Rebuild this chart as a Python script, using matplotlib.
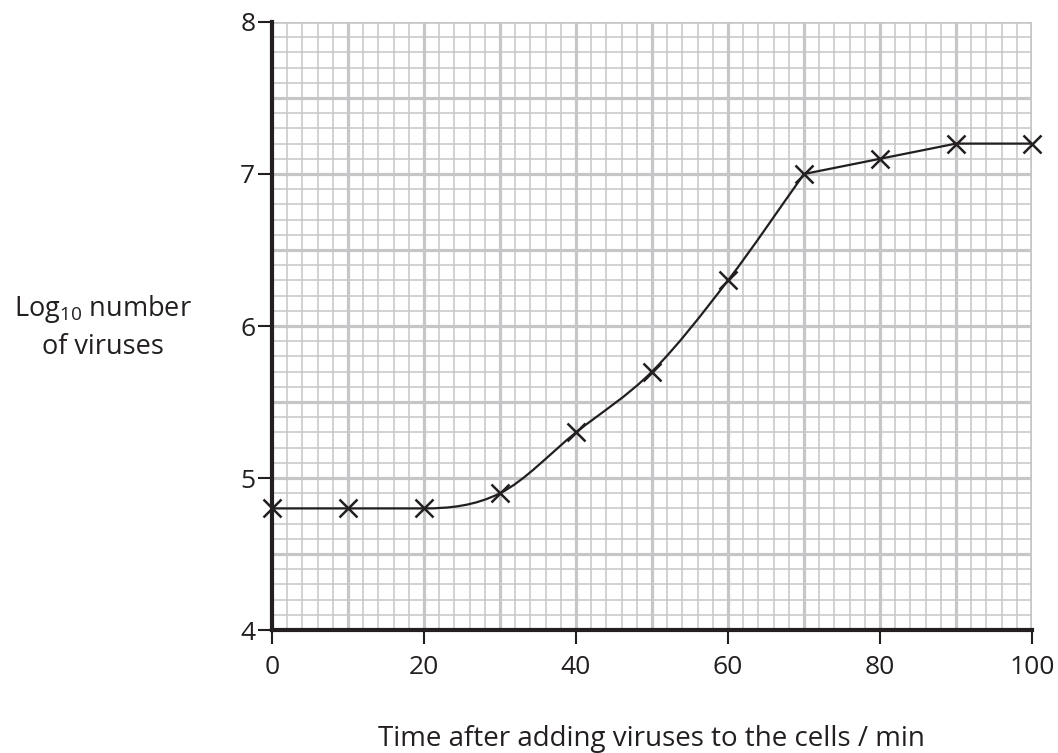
import numpy as np
import matplotlib.pyplot as plt
from matplotlib.path import Path
from matplotlib.patches import PathPatch

plt.rcParams['font.family'] = ['Open Sans', 'DejaVu Sans']
plt.rcParams['mathtext.fontset'] = 'custom'
plt.rcParams['mathtext.rm'] = 'Open Sans'
plt.rcParams['mathtext.it'] = 'Open Sans'

# data
time_min = [0, 10, 20, 30, 40, 50, 60, 70, 80, 90, 100]
log_viruses = [4.8, 4.8, 4.8, 4.9, 5.3, 5.7, 6.3, 7.0, 7.1, 7.2, 7.2]
x_ticks = [0, 20, 40, 60, 80, 100]
y_ticks = [4, 5, 6, 7, 8]

ink = '#231f20'
fig = plt.figure(figsize=(10.58, 7.53), dpi=100)
ax = fig.add_axes([0.2571, 0.1633, 0.7183, 0.8075])
ax.set_xlim(0, 100)
ax.set_ylim(4, 8)

grid = '#c6c6c8'
for v in np.arange(2, 100, 2):
    ax.axvline(v, color=grid, lw=1.1 if v % 10 else 2.3, zorder=1)
ax.axvline(100, color=grid, lw=2.6, zorder=1)
for v in np.arange(41, 80) / 10:
    ax.axhline(v, color=grid, lw=2.3 if v % 0.5 < 1e-6 or v % 0.5 > 0.49 else 1.1, zorder=1)
ax.axhline(8, color=grid, lw=2.6, zorder=1)

# hand-drawn style curve: smooth (monotone) up to 70 min, straight after
x = np.array(time_min, float)
y = np.array(log_viruses, float)
k = 7
d = np.diff(y[:k + 1]) / np.diff(x[:k + 1])
m = np.zeros(k + 1)
for i in range(1, k):
    if d[i - 1] * d[i] > 0:
        m[i] = (d[i - 1] + d[i]) / 2
m[0], m[k] = d[0], d[k - 1]
verts = [(x[0], y[0])]
codes = [Path.MOVETO]
for i in range(k):
    h = (x[i + 1] - x[i]) / 3
    verts += [(x[i] + h, y[i] + m[i] * h), (x[i + 1] - h, y[i + 1] - m[i + 1] * h), (x[i + 1], y[i + 1])]
    codes += [Path.CURVE4] * 3
for i in range(k + 1, len(x)):
    verts.append((x[i], y[i]))
    codes.append(Path.LINETO)
ax.add_patch(PathPatch(Path(verts, codes), fill=False, lw=1.6, color=ink, zorder=3))
ax.plot(time_min, log_viruses, ls='none', marker='x', ms=13, mew=1.8,
        color=ink, zorder=4, clip_on=False)

for s in ['top', 'right']:
    ax.spines[s].set_visible(False)
for s in ['left', 'bottom']:
    ax.spines[s].set_linewidth(3)
    ax.spines[s].set_color(ink)
    ax.spines[s].set_zorder(5)

ax.set_xticks(x_ticks)
ax.set_yticks(y_ticks)
ax.tick_params(length=10, width=1.5, color=ink, labelsize=19, labelcolor=ink)
ax.tick_params(axis='y', pad=2)
ax.tick_params(axis='x', pad=8)

fig.text(0.616, 0.009, 'Time after adding viruses to the cells / min', ha='center', va='baseline',
         fontsize=20, color=ink)
fig.text(0.097, 0.566, 'Log$_{10}$ number\nof viruses', ha='center', va='center',
         fontsize=19.5, color=ink, linespacing=1.38)

fig.savefig('out.png', dpi=100)
